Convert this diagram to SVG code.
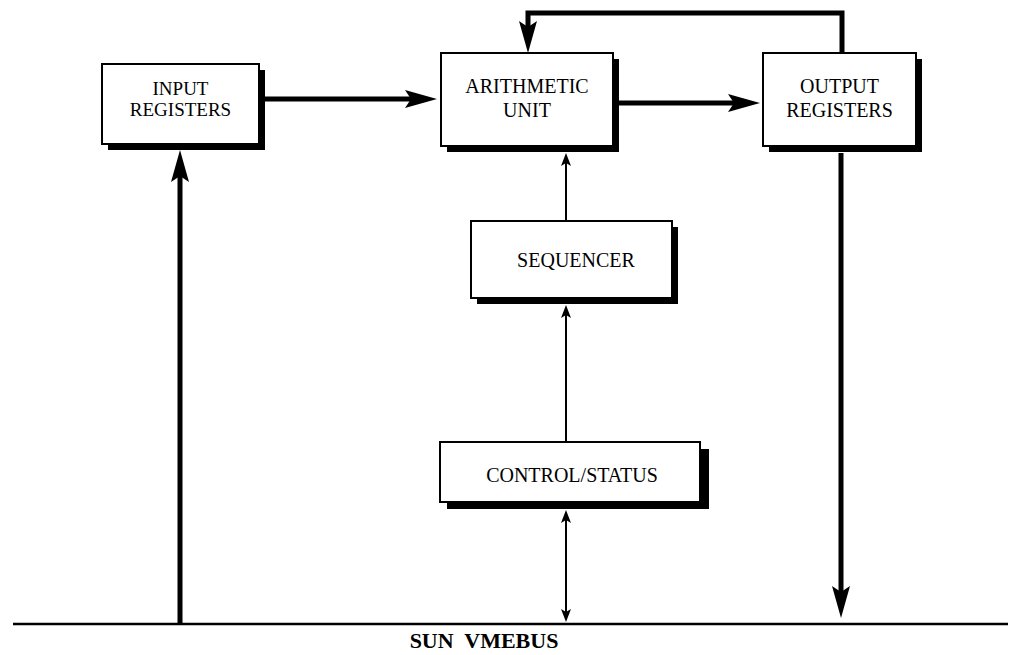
<svg xmlns="http://www.w3.org/2000/svg" width="1010" height="655" viewBox="0 0 1010 655">
<style>
.box{fill:#fff;stroke:#000;stroke-width:2}
.sh{fill:#000}
.lbl{font-family:"Liberation Serif","Times New Roman",serif;font-size:20px;fill:#000;text-anchor:middle}
.thick{fill:none;stroke:#000;stroke-width:5}
.thin{fill:none;stroke:#000;stroke-width:2}
.bus{fill:none;stroke:#000;stroke-width:2.5}
.title{font-family:"Liberation Serif","Times New Roman",serif;font-size:22px;font-weight:bold;fill:#000;text-anchor:middle;white-space:pre}
</style>
<defs>
<marker id="big" markerUnits="userSpaceOnUse" markerWidth="34" markerHeight="22" refX="12" refY="10" orient="auto">
<path d="M0,1 L32,10 L0,19 L6,10 Z" fill="#000"/>
</marker>
<marker id="small" markerUnits="userSpaceOnUse" markerWidth="14" markerHeight="12" refX="7" refY="5" orient="auto-start-reverse">
<path d="M0,0 L13,5 L0,10 L3,5 Z" fill="#000"/>
</marker>
</defs>
<rect width="1010" height="655" fill="#fff"/>
<g id="connectors">
<path class="thick" d="M259,99 H417" marker-end="url(#big)"/>
<path class="thick" d="M619,103 H740" marker-end="url(#big)"/>
<path class="thick" d="M842,53 V13 H528 V33" marker-end="url(#big)"/>
<path class="thick" d="M841,153 V598" marker-end="url(#big)"/>
<path class="thick" d="M180,624 V170" marker-end="url(#big)"/>
<path class="thin" d="M566,221 V159" marker-end="url(#small)"/>
<path class="thin" d="M566,442 V311" marker-end="url(#small)"/>
<path class="thin" d="M566,516 V616" marker-start="url(#small)" marker-end="url(#small)"/>
<path class="bus" d="M13,624 H1008"/>
</g>
<g id="input-registers">
<rect class="sh" x="108" y="70" width="157" height="80"/>
<rect class="box" x="102" y="64" width="157" height="80"/>
<text class="lbl" x="180.5" y="95" style="font-size:19px">INPUT</text>
<text class="lbl" x="180.5" y="116" style="font-size:19px">REGISTERS</text>
</g>
<g id="arithmetic-unit">
<rect class="sh" x="447" y="59" width="172" height="93"/>
<rect class="box" x="441" y="53" width="172" height="93"/>
<text class="lbl" x="527" y="93">ARITHMETIC</text>
<text class="lbl" x="527" y="117">UNIT</text>
</g>
<g id="output-registers">
<rect class="sh" x="769" y="59" width="153" height="93"/>
<rect class="box" x="763" y="53" width="153" height="93"/>
<text class="lbl" x="839.5" y="93">OUTPUT</text>
<text class="lbl" x="839.5" y="117">REGISTERS</text>
</g>
<g id="sequencer">
<rect class="sh" x="477" y="227" width="201" height="77"/>
<rect class="box" x="471" y="221" width="201" height="77"/>
<text class="lbl" x="576" y="267">SEQUENCER</text>
</g>
<g id="control-status">
<rect class="sh" x="447" y="449" width="262" height="60"/>
<rect class="box" x="440" y="442" width="260" height="60"/>
<text class="lbl" x="572" y="482">CONTROL/STATUS</text>
</g>
<g id="bus-label">
<text class="title" x="484" y="648">SUN  VMEBUS</text>
</g>
</svg>
